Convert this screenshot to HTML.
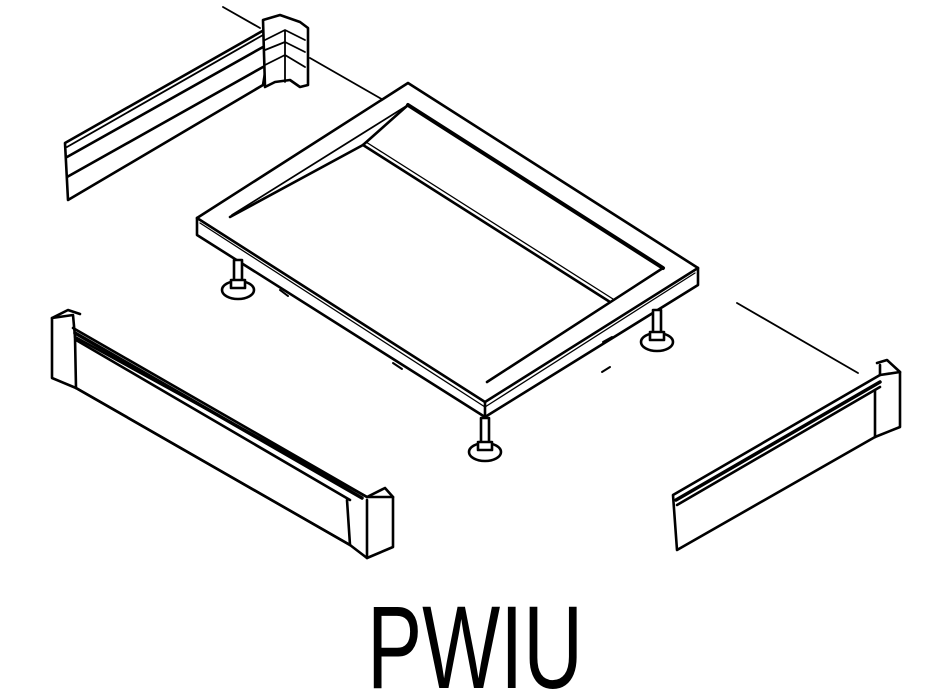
<!DOCTYPE html>
<html><head><style>html,body{margin:0;padding:0;background:#fff;}svg{display:block}</style></head>
<body>
<svg width="950" height="700" viewBox="0 0 950 700" xmlns="http://www.w3.org/2000/svg">
<g fill="none" stroke="#000" stroke-width="2.6" stroke-linejoin="round" stroke-linecap="round">
<line x1="223" y1="7" x2="260" y2="28" stroke-width="1.8"/>
<line x1="310" y1="58" x2="392" y2="105" stroke-width="1.8"/>
<line x1="737" y1="303" x2="858" y2="373" stroke-width="1.8"/>

<polygon points="408,83 698,268 698,285 485,417 197,235 197,218" fill="#fff"/>
<polyline points="197,218 485,402 698,268"/>
<line x1="485" y1="402" x2="485" y2="417"/>
<polyline points="200,223 485,407 695,273" stroke-width="1.3"/>
<line x1="408" y1="105" x2="663" y2="268" stroke-width="4"/>
<line x1="663" y1="268" x2="487" y2="382"/>
<line x1="230" y1="217" x2="363" y2="145"/>
<line x1="363" y1="145" x2="408" y2="105"/>
<line x1="408" y1="105" x2="232" y2="215" stroke-width="1.8"/>
<line x1="363" y1="145" x2="610" y2="302"/>
<line x1="366" y1="142" x2="613" y2="299" stroke-width="1.3"/>
<g fill="#fff">
<ellipse cx="238" cy="290" rx="16" ry="9"/>
<rect x="234" y="260" width="8" height="24"/>
<rect x="231" y="280" width="14" height="8"/>
<ellipse cx="485" cy="452" rx="16" ry="9"/>
<rect x="481" y="418" width="8" height="28"/>
<rect x="478" y="442" width="14" height="8"/>
<ellipse cx="657" cy="342" rx="16" ry="9"/>
<rect x="653" y="310" width="8" height="26"/>
<rect x="650" y="332" width="14" height="8"/>
</g>
<g stroke-width="2">
<line x1="280" y1="290" x2="288" y2="296"/>
<line x1="393" y1="363" x2="402" y2="369"/>
<line x1="602" y1="372" x2="610" y2="367"/>
<line x1="603" y1="342" x2="612" y2="337"/>
</g>

<polygon points="65,143 273,25 263,85 68,200" fill="#fff"/>
<line x1="67" y1="147" x2="270" y2="31" stroke-width="1.8"/>
<line x1="67" y1="157" x2="263" y2="47"/>
<line x1="67" y1="177" x2="263" y2="67"/>
<path d="M263,20 L280,15 L300,22 L308,28 L308,85 L300,87 L290,80 L275,82 L265,87 Z" fill="#fff"/>
<path d="M265,40 L285,30 L305,40 M265,50 L285,42 L305,52 M265,65 L285,55 L305,67 M285,30 L285,82" stroke-width="1.8"/>

<polygon points="52,318 73,315 75,337 367,497 393,497 393,547 367,558 350,545 76,388 52,378" fill="#fff"/>
<line x1="75" y1="337" x2="76" y2="388"/>
<line x1="73" y1="328" x2="367" y2="497"/>
<line x1="75" y1="333" x2="362" y2="498" stroke-width="3.5"/>
<line x1="76" y1="340" x2="350" y2="500"/>
<line x1="76" y1="388" x2="350" y2="545"/>
<line x1="347" y1="500" x2="350" y2="545"/>
<line x1="367" y1="500" x2="367" y2="558"/>
<path d="M52,318 L68,310 L80,314 M367,497 L385,488 L393,497"/>

<polygon points="673,495 880,375 900,372 900,427 875,437 677,550" fill="#fff"/>
<line x1="676" y1="500" x2="880" y2="382" stroke-width="3.5"/>
<line x1="677" y1="505" x2="880" y2="387"/>
<line x1="875" y1="390" x2="875" y2="437"/>
<path d="M877,363 L887,360 L900,372 M880,375 L880,365"/>
</g>
<text x="367" y="688" font-family="'Liberation Sans', sans-serif" font-size="118" textLength="216" lengthAdjust="spacingAndGlyphs" fill="#000">PWIU</text>
</svg>
</body></html>
